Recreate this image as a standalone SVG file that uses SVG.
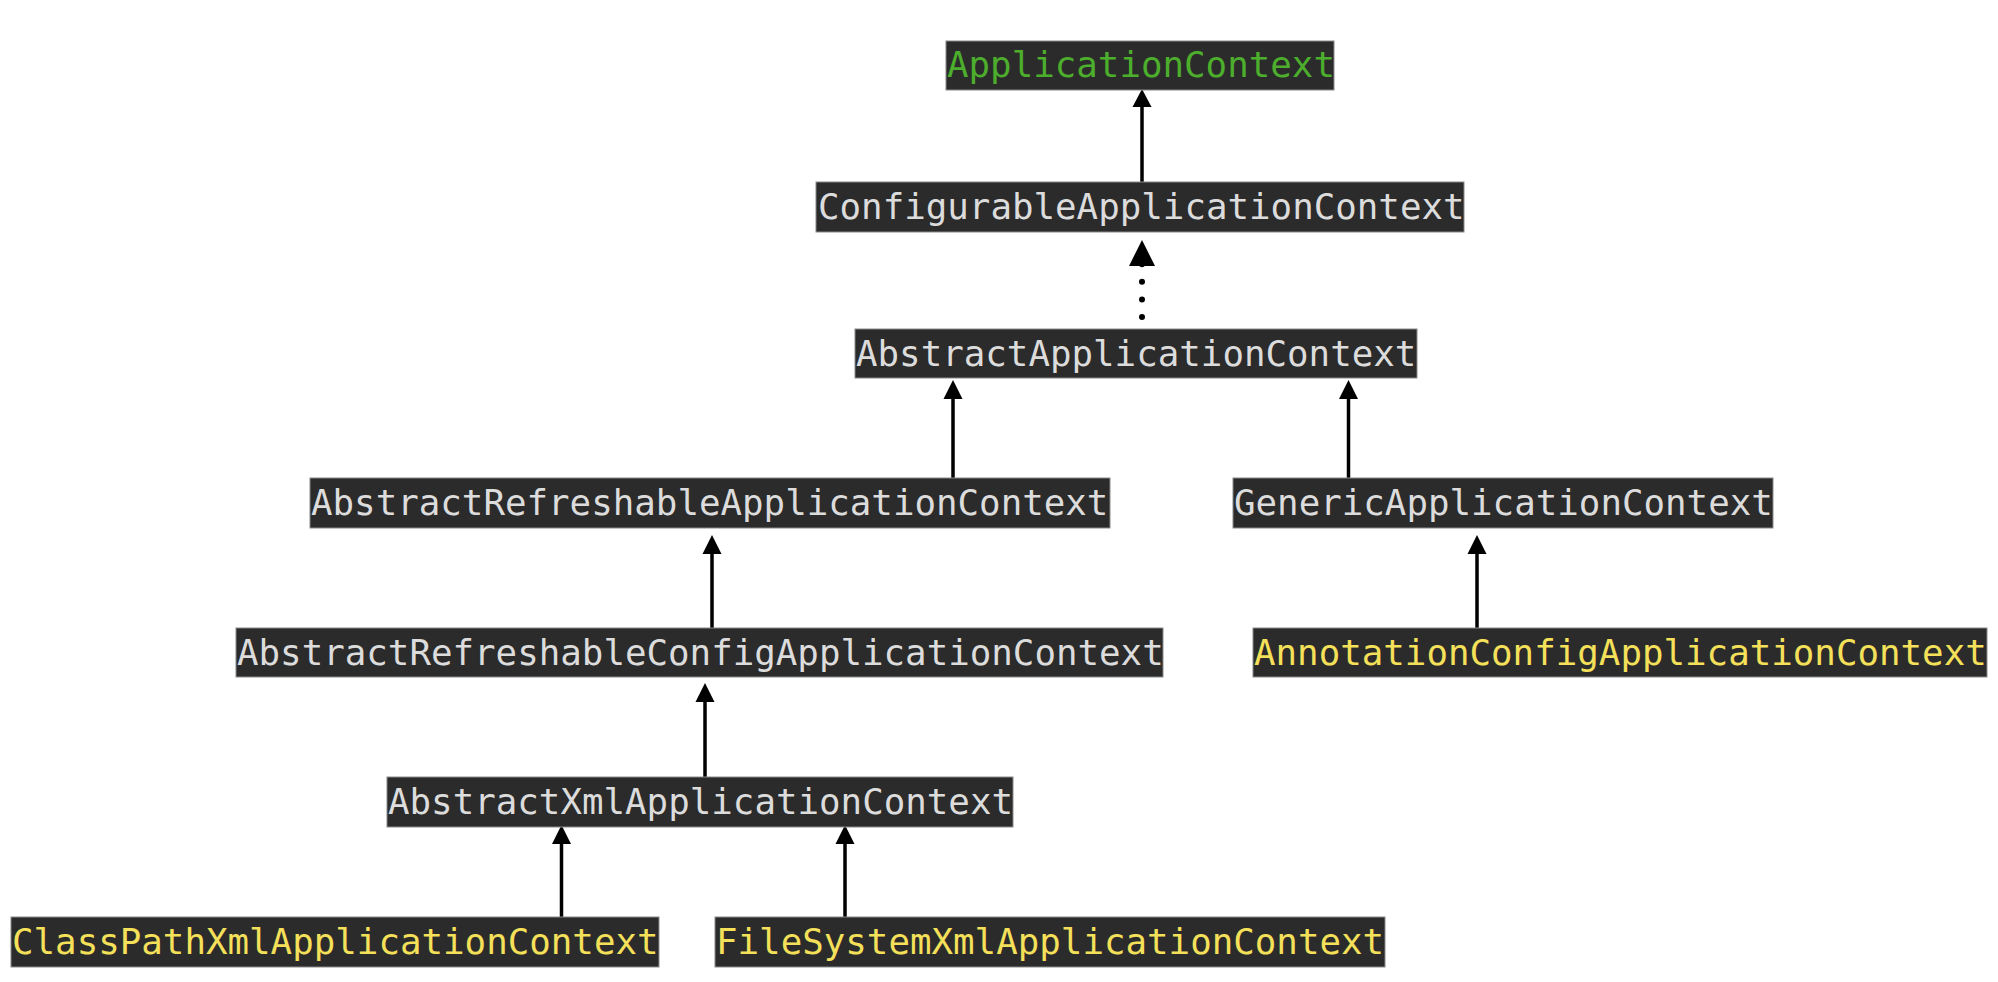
<svg xmlns="http://www.w3.org/2000/svg" width="1998" height="982" viewBox="0 0 1998 982">
<style>
.box{fill:#2b2b2b;stroke:#8a8a8a;stroke-width:1}
.t{font-family:"DejaVu Sans Mono","Liberation Mono",monospace;font-size:35.8px}
.w{fill:#dcdcdc}
.g{fill:#4cae2c}
.y{fill:#f5e05a}
.ln{stroke:#000;stroke-width:3.5;fill:none}
.ah{fill:#000}
</style>
<rect width="1998" height="982" fill="#fff"/>
<g id="connectors">
<line class="ln" x1="1142" y1="182" x2="1142" y2="104"/>
<polygon class="ah" points="1142,89 1132.5,107 1151.5,107"/>
<path d="M1142 317 L1142 264" stroke="#000" stroke-width="6" stroke-linecap="round" stroke-dasharray="0 17.6" fill="none"/>
<polygon class="ah" points="1142,240 1129,266 1155,266"/>
<line class="ln" x1="953" y1="478" x2="953" y2="396"/>
<polygon class="ah" points="953,380 943.5,399 962.5,399"/>
<line class="ln" x1="1348.5" y1="478" x2="1348.5" y2="396"/>
<polygon class="ah" points="1348.5,380 1339,399 1358,399"/>
<line class="ln" x1="712" y1="628" x2="712" y2="551"/>
<polygon class="ah" points="712,535 702.5,554 721.5,554"/>
<line class="ln" x1="1477" y1="628" x2="1477" y2="551"/>
<polygon class="ah" points="1477,535 1467.5,554 1486.5,554"/>
<line class="ln" x1="705" y1="777" x2="705" y2="700"/>
<polygon class="ah" points="705,683 695.5,702 714.5,702"/>
<line class="ln" x1="561.5" y1="917" x2="561.5" y2="842"/>
<polygon class="ah" points="561.5,825 552,844 571,844"/>
<line class="ln" x1="845" y1="917" x2="845" y2="842"/>
<polygon class="ah" points="845,825 835.5,844 854.5,844"/>
</g>
<g id="n1"><rect class="box" x="946" y="41" width="388" height="49"/><text class="t g" x="947" y="77">ApplicationContext</text></g>
<g id="n2"><rect class="box" x="816" y="182" width="648" height="50"/><text class="t w" x="818" y="219">ConfigurableApplicationContext</text></g>
<g id="n3"><rect class="box" x="855" y="329" width="562" height="49"/><text class="t w" x="856" y="366">AbstractApplicationContext</text></g>
<g id="n4"><rect class="box" x="310" y="478" width="800" height="50"/><text class="t w" x="311" y="515">AbstractRefreshableApplicationContext</text></g>
<g id="n5"><rect class="box" x="1233" y="478" width="540" height="50"/><text class="t w" x="1234" y="515">GenericApplicationContext</text></g>
<g id="n6"><rect class="box" x="236" y="628" width="927" height="49"/><text class="t w" x="237" y="665">AbstractRefreshableConfigApplicationContext</text></g>
<g id="n7"><rect class="box" x="1253" y="628" width="734" height="49"/><text class="t y" x="1254" y="665">AnnotationConfigApplicationContext</text></g>
<g id="n8"><rect class="box" x="387" y="777" width="626" height="50"/><text class="t w" x="388" y="814">AbstractXmlApplicationContext</text></g>
<g id="n9"><rect class="box" x="11" y="917" width="648" height="50"/><text class="t y" x="12" y="954">ClassPathXmlApplicationContext</text></g>
<g id="n10"><rect class="box" x="715" y="917" width="670" height="50"/><text class="t y" x="716" y="954">FileSystemXmlApplicationContext</text></g>
</svg>
